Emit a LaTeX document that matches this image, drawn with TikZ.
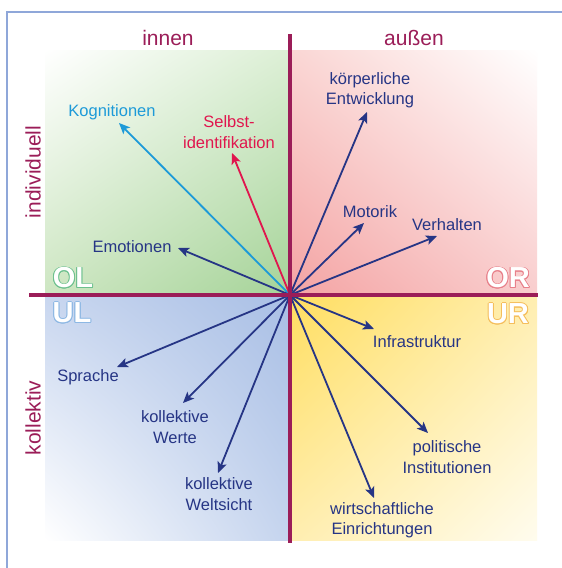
\documentclass[tikz,border=0pt]{standalone}
\usepackage{fontspec}
\setmainfont{Liberation Sans}
\usetikzlibrary{arrows.meta,shadings,calc}
\definecolor{axcol}{HTML}{9B1D58}
\definecolor{navy}{HTML}{263585}
\definecolor{cyanA}{HTML}{1D9AD8}
\definecolor{crim}{HTML}{E0164E}
\definecolor{frame}{HTML}{8FA7D9}
\definecolor{olstroke}{HTML}{6CC08E}
\definecolor{ulstroke}{HTML}{8DB8E4}
\definecolor{orstroke}{HTML}{E8808A}
\definecolor{urstroke}{HTML}{F5BE5C}
\definecolor{gA}{RGB}{220,239,213}
\definecolor{gB}{RGB}{205,230,194}
\definecolor{gC}{RGB}{165,211,152}
\definecolor{rA}{RGB}{250,214,212}
\definecolor{rB}{RGB}{249,205,205}
\definecolor{rC}{RGB}{244,163,163}
\definecolor{bA}{RGB}{200,214,239}
\definecolor{bB}{RGB}{197,212,238}
\definecolor{bC}{RGB}{169,191,229}
\definecolor{yA}{RGB}{255,238,176}
\definecolor{yC}{RGB}{255,222,96}
\definecolor{yW}{RGB}{255,252,238}
\tikzset{
  arr/.style={line width=1.8pt,-{Stealth[length=11pt,width=9.5pt,inset=2.5pt]}},
  lab/.style={font=\fontsize{16.5}{20.5}\selectfont,align=center,inner sep=0pt,text=navy},
  side/.style={font=\fontsize{21}{24}\selectfont,inner sep=0pt,text=axcol},
  quad/.style={font=\fontsize{29}{30}\selectfont\bfseries,inner sep=0pt},
  axis/.style={line width=3.2pt,draw=axcol}
}
\newcommand{\outlined}[4]{%
  \foreach \ang in {0,30,...,330}{\node[quad,text=#3] at ($(#1)+(\ang:0.9pt)$) {#4};}
  \node[quad,text=white] (#2) at (#1) {#4};}
\begin{document}
\begin{tikzpicture}[x=1pt,y=-1pt]
\useasboundingbox (0,0) rectangle (562,568);
\fill[white] (0,0) rectangle (562,568);
% frame
\draw[frame,line width=2pt] (7,568) -- (7,12) -- (562,12);
% quadrant shadings
\shade[upper left=white, upper right=gA, lower left=gB, lower right=gC] (45,50) rectangle (290,295);
\shade[upper right=white, upper left=rA, lower right=rB, lower left=rC] (290,50) rectangle (537,295);
\shade[lower left=white, upper left=bA, lower right=bB, upper right=bC] (45,295) rectangle (290,540);
\shade[lower right=yW, upper right=yA, lower left=yA, upper left=yC] (290,295) rectangle (537,540);
% quadrant letters
\outlined{73,278}{ol}{olstroke}{OL}
\outlined{72,313}{ul}{ulstroke}{UL}
\outlined{508,278}{or}{orstroke}{OR}
\outlined{508,314}{ur}{urstroke}{UR}
% side labels
\node[side] (innen) at (168,38) {innen};
\node[side] (aussen) at (414,38) {außen};
\node[side,rotate=90] (indiv) at (33,172) {individuell};
\node[side,rotate=90] (koll) at (33,418) {kollektiv};
% centre and tips
\coordinate (c) at (290,295);
\coordinate (tKog) at (119,123);
\coordinate (tSel) at (232,153);
\coordinate (tEmo) at (178,248);
\coordinate (tKoe) at (367,112);
\coordinate (tMot) at (364,223);
\coordinate (tVer) at (437,236);
\coordinate (tSpr) at (117,367);
\coordinate (tWer) at (183,403);
\coordinate (tWel) at (218,473);
\coordinate (tInf) at (374,329);
\coordinate (tPol) at (428,433);
\coordinate (tWir) at (374,498);
% labels
\node[lab,text=cyanA] (Kog) at (112,112) {Kognitionen};
\node[lab,text=crim] (Sel) at (229,132) {Selbst-\\identifikation};
\node[lab] (Emo) at (132,247) {Emotionen};
\node[lab] (Koe) at (370,90) {körperliche\\Entwicklung};
\node[lab] (Mot) at (370,212) {Motorik};
\node[lab] (Ver) at (447,225) {Verhalten};
\node[lab] (Spr) at (88,377) {Sprache};
\node[lab] (Wer) at (175,427) {kollektive\\Werte};
\node[lab] (Wel) at (219,494) {kollektive\\Weltsicht};
\node[lab] (Inf) at (417,342) {Infrastruktur};
\node[lab] (Pol) at (447,457) {politische\\Institutionen};
\node[lab] (Wir) at (382,520) {wirtschaftliche\\Einrichtungen};
% arrows
\draw[arr,cyanA] (c) -- (tKog);
\draw[arr,crim] (c) -- (tSel);
\foreach \t in {tEmo,tKoe,tMot,tVer,tSpr,tWer,tWel,tInf,tPol,tWir}
  \draw[arr,navy] (c) -- (\t);
% axes
\coordinate (vtop) at (290,34);
\coordinate (vbot) at (290,543);
\coordinate (hl) at (29,295);
\coordinate (hr) at (538,295);
\draw[axis] (vtop) -- (vbot);
\draw[axis] (hl) -- (hr);
\end{tikzpicture}
\end{document}
